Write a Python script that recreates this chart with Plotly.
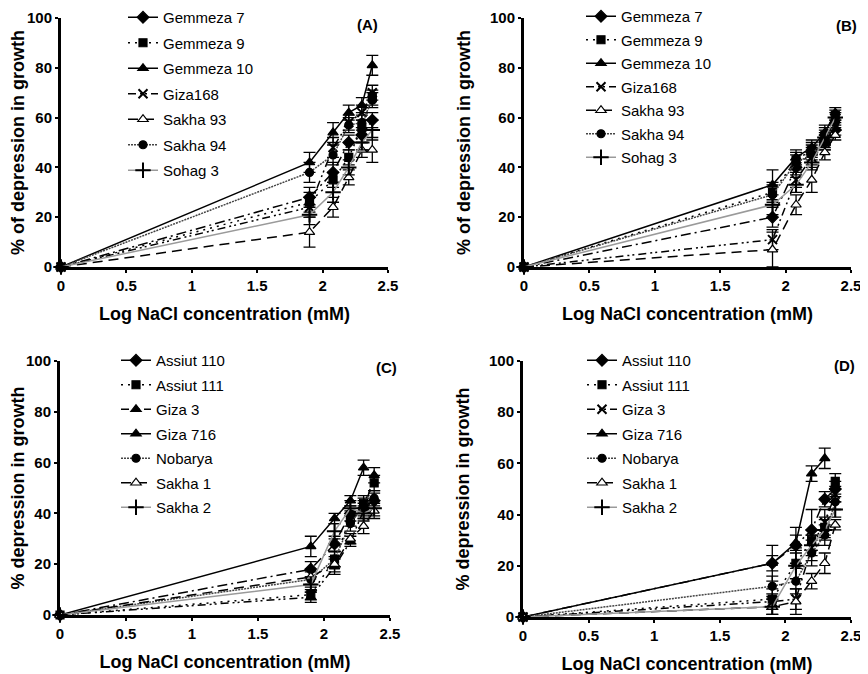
import plotly.graph_objects as go

# ---------------- data ----------------
LOG_NACL = [0, 1.90, 2.08, 2.20, 2.30, 2.38]

# Panel A
A_NAMES = ["Gemmeza 7", "Gemmeza 9", "Gemmeza 10", "Giza168", "Sakha 93", "Sakha 94", "Sohag 3"]
A_GEMMEZA7 = [0, 28, 38, 50, 53, 59]
A_GEMMEZA9 = [0, 26, 35, 44, 56, 68]
A_GEMMEZA10 = [0, 42, 54, 62, 65, 81]
A_GIZA168 = [0, 24, 48, 58, 62, 70]
A_SAKHA93 = [0, 14, 24, 36, 47, 47]
A_SAKHA94 = [0, 38, 45, 57, 58, 67]
A_SOHAG3 = [0, 21, 30, 40, 50, 55]
A_ERR = [
    [0, 4, 4, 3, 3, 3],
    [0, 4, 3, 3, 3, 3],
    [0, 4, 4, 3, 3, 4],
    [0, 4, 4, 3, 3, 3],
    [0, 6, 4, 3, 3, 5],
    [0, 4, 4, 3, 3, 3],
    [0, 4, 4, 3, 3, 4],
]

# Panel B
B_NAMES = A_NAMES
B_GEMMEZA7 = [0, 20, 40, 46, 50, 55]
B_GEMMEZA9 = [0, 30, 43, 47, 53, 61]
B_GEMMEZA10 = [0, 33, 44, 48, 54, 62]
B_GIZA168 = [0, 11, 35, 44, 50, 57]
B_SAKHA93 = [0, 7, 25, 35, 46, 53]
B_SAKHA94 = [0, 29, 42, 45, 51, 58]
B_SOHAG3 = [0, 25, 33, 42, 52, 60]
B_ERR = [
    [0, 4, 3, 3, 3, 2],
    [0, 4, 3, 3, 3, 2],
    [0, 6, 3, 3, 3, 2],
    [0, 4, 3, 3, 3, 2],
    [0, 7, 4, 5, 3, 2],
    [0, 4, 3, 3, 3, 2],
    [0, 4, 3, 3, 3, 2],
]

# Panel C
C_NAMES = ["Assiut 110", "Assiut 111", "Giza 3", "Giza 716", "Nobarya", "Sakha 1", "Sakha 2"]
C_ASSIUT110 = [0, 18, 28, 40, 42, 45]
C_ASSIUT111 = [0, 8, 22, 38, 44, 52]
C_GIZA3 = [0, 7, 19, 29, 41, 55]
C_GIZA716 = [0, 27, 38, 45, 58, None]
C_NOBARYA = [0, 14, 22, 36, 43, 46]
C_SAKHA1 = [0, 15, 20, 30, 35, 41]
C_SAKHA2 = [0, 12, 33, 42, 40, 42]
C_ERR = [
    [0, 3, 3, 3, 3, 3],
    [0, 2, 3, 3, 3, 3],
    [0, 2, 3, 2, 3, 3],
    [0, 4, 2, 2, 3, 0],
    [0, 3, 3, 3, 3, 3],
    [0, 3, 3, 2, 3, 3],
    [0, 3, 3, 3, 3, 3],
]

# Panel D
D_NAMES = C_NAMES
D_ASSIUT110 = [0, 21, 28, 34, 46, 50]
D_ASSIUT111 = [0, 7, 21, 30, 35, 53]
D_GIZA3 = [0, 6, 7, 27, 37, 48]
D_GIZA716 = [0, 21, 29, 56, 62, None]
D_NOBARYA = [0, 12, 14, 25, 32, 45]
D_SAKHA1 = [0, 4, 6, 14, 21, 36]
D_SAKHA2 = [0, 4, 20, 28, 34, 42]
D_ERR = [
    [0, 7, 7, 8, 3, 3],
    [0, 4, 6, 4, 4, 3],
    [0, 3, 4, 5, 5, 3],
    [0, 3, 3, 3, 4, 0],
    [0, 4, 5, 5, 4, 3],
    [0, 3, 5, 3, 4, 2],
    [0, 3, 5, 4, 4, 3],
]

X_TICKS = [0, 0.5, 1, 1.5, 2, 2.5]
Y_TICKS = [0, 20, 40, 60, 80, 100]
X_TITLE = "Log NaCl concentration (mM)"
Y_TITLE_AB = "% of depression in growth"
Y_TITLE_CD = "% depression in growth"

# ---------------- styles ----------------
S_DASHDOT_DIAMOND = dict(dash="10px,4px,2px,4px", color="#000000", symbol="diamond", size=9, fill="#000000")
S_DOT_SQUARE = dict(dash="2px,5px", color="#000000", symbol="square", size=8, fill="#000000")
S_SOLID_TRI = dict(dash="solid", color="#000000", symbol="triangle-up", size=9, fill="#000000")
S_DDOT_X = dict(dash="8px,4px,2px,3px,2px,4px", color="#000000", symbol="x-thin", size=9, fill="#000000")
S_DDOT_TRI = dict(dash="8px,4px,2px,3px,2px,4px", color="#000000", symbol="triangle-up", size=9, fill="#000000")
S_DASH_OTRI = dict(dash="10px,6px", color="#000000", symbol="triangle-up", size=9, fill="#ffffff")
S_FDOT_CIRCLE = dict(dash="2px,1px", color="#444444", symbol="circle", size=8, fill="#000000")
S_GRAY_PLUS = dict(dash="solid", color="#9a9a9a", symbol="cross-thin", size=11, fill="#000000")

AB_STYLES = [S_DASHDOT_DIAMOND, S_DOT_SQUARE, S_SOLID_TRI, S_DDOT_X, S_DASH_OTRI, S_FDOT_CIRCLE, S_GRAY_PLUS]
C_STYLES = [S_DASHDOT_DIAMOND, S_DOT_SQUARE, S_DDOT_TRI, S_SOLID_TRI, S_FDOT_CIRCLE, S_DASH_OTRI, S_GRAY_PLUS]
D_STYLES = [S_DASHDOT_DIAMOND, S_DOT_SQUARE, S_DDOT_X, S_SOLID_TRI, S_FDOT_CIRCLE, S_DASH_OTRI, S_GRAY_PLUS]

fig = go.Figure()

panels = [
    ("x", "y", "legend", A_NAMES,
     [A_GEMMEZA7, A_GEMMEZA9, A_GEMMEZA10, A_GIZA168, A_SAKHA93, A_SAKHA94, A_SOHAG3], A_ERR, AB_STYLES),
    ("x2", "y2", "legend2", B_NAMES,
     [B_GEMMEZA7, B_GEMMEZA9, B_GEMMEZA10, B_GIZA168, B_SAKHA93, B_SAKHA94, B_SOHAG3], B_ERR, AB_STYLES),
    ("x3", "y3", "legend3", C_NAMES,
     [C_ASSIUT110, C_ASSIUT111, C_GIZA3, C_GIZA716, C_NOBARYA, C_SAKHA1, C_SAKHA2], C_ERR, C_STYLES),
    ("x4", "y4", "legend4", D_NAMES,
     [D_ASSIUT110, D_ASSIUT111, D_GIZA3, D_GIZA716, D_NOBARYA, D_SAKHA1, D_SAKHA2], D_ERR, D_STYLES),
]

for xa, ya, lg, names, series, errs, styles in panels:
    for i, (name, vals, err, st) in enumerate(zip(names, series, errs, styles)):
        thin = st["symbol"].endswith("thin")
        fig.add_trace(go.Scatter(
            x=LOG_NACL, y=vals, name=name, xaxis=xa, yaxis=ya, legend=lg,
            legendgroup=lg + str(i),
            mode="lines+markers",
            line=dict(color=st["color"], width=1.5, dash=st["dash"]),
            marker=dict(symbol=st["symbol"], size=st["size"], color=st["fill"],
                        line=dict(color="#000000", width=2 if thin else 1.2)),
            error_y=dict(type="data", array=err, visible=True, color="#000000", thickness=1.3, width=6),
            cliponaxis=False,
            connectgaps=False,
        ))

font_family = "Arial, Liberation Sans, sans-serif"
# the page body has an 8px margin, so the figure is drawn 8px in from the window corner
OFF = 8
W, H = 868 - OFF, 674 - OFF

def fx(px):
    return (px - OFF) / W

def fy(py):
    return 1 - (py - OFF) / H

domains = {
    "A": ([fx(61), fx(388)], [fy(267), fy(18)]),
    "B": ([fx(524), fx(851)], [fy(267), fy(18)]),
    "C": ([fx(60), fx(390)], [fy(615), fy(361)]),
    "D": ([fx(523), fx(851)], [fy(617), fy(361)]),
}

def xaxis(dom, anchor):
    return dict(domain=dom, anchor=anchor, range=[0, 2.5], tickvals=X_TICKS,
                ticktext=[f"{t:g}" for t in X_TICKS], automargin=False,
                ticklabeloverflow="allow",
                showline=True, linecolor="#000000", linewidth=3,
                ticks="outside", ticklen=3, tickwidth=2, tickcolor="#000000",
                showgrid=False, zeroline=False,
                tickfont=dict(family=font_family, size=15, color="#000000", weight="bold"),
                title=dict(text="<b>" + X_TITLE + "</b>",
                           font=dict(family=font_family, size=18, color="#000000")))

def yaxis(dom, anchor, title):
    return dict(domain=dom, anchor=anchor, range=[0, 100], tickvals=Y_TICKS, automargin=False,
                ticklabeloverflow="allow",
                showline=True, linecolor="#000000", linewidth=3,
                ticks="outside", ticklen=3, tickwidth=2, tickcolor="#000000",
                showgrid=False, zeroline=False,
                tickfont=dict(family=font_family, size=15, color="#000000", weight="bold"),
                title=dict(text="<b>" + title + "</b>",
                           font=dict(family=font_family, size=18, color="#000000")))

def legend(x, y, gap):
    return dict(x=x, y=y, xanchor="left", yanchor="top", bgcolor="rgba(0,0,0,0)",
                borderwidth=0, tracegroupgap=gap,
                font=dict(family=font_family, size=15, color="#000000"))

fig.update_layout(
    width=W, height=H,
    margin=dict(l=0, r=0, t=0, b=0, autoexpand=False),
    paper_bgcolor="#ffffff", plot_bgcolor="#ffffff",
    showlegend=True,
    xaxis=xaxis(domains["A"][0], "y"), yaxis=yaxis(domains["A"][1], "x", Y_TITLE_AB),
    xaxis2=xaxis(domains["B"][0], "y2"), yaxis2=yaxis(domains["B"][1], "x2", Y_TITLE_AB),
    xaxis3=xaxis(domains["C"][0], "y3"), yaxis3=yaxis(domains["C"][1], "x3", Y_TITLE_CD),
    xaxis4=xaxis(domains["D"][0], "y4"), yaxis4=yaxis(domains["D"][1], "x4", Y_TITLE_CD),
    legend=legend(fx(123), fy(1), 3),
    legend2=legend(fx(581), fy(0), 1),
    legend3=legend(fx(116), fy(344), 2),
    legend4=legend(fx(582), fy(344), 2),
)

labels = [("(A)", "x domain", "y domain", 0.936, 0.972),
          ("(B)", "x2 domain", "y2 domain", 0.985, 0.97),
          ("(C)", "x3 domain", "y3 domain", 0.99, 0.976),
          ("(D)", "x4 domain", "y4 domain", 0.979, 0.984)]
for txt, xr, yr, xv, yv in labels:
    fig.add_annotation(text="<b>" + txt + "</b>", xref=xr, yref=yr, x=xv, y=yv,
                       showarrow=False, xanchor="center", yanchor="middle",
                       font=dict(family=font_family, size=15, color="#000000"))

fig.write_html("out.html")
